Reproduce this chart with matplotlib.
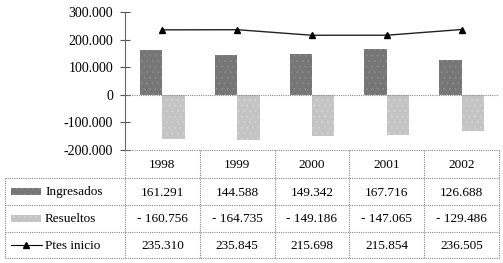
import matplotlib.pyplot as plt
from matplotlib.patches import Rectangle
from matplotlib.lines import Line2D

years = ['1998', '1999', '2000', '2001', '2002']
ingresados = [161291, 144588, 149342, 167716, 126688]
resueltos = [-160756, -164735, -149186, -147065, -129486]
ptes_inicio = [235310, 235845, 215698, 215854, 236505]
series_names = ['Ingresados', 'Resueltos', 'Ptes inicio']
yticks = [300000, 200000, 100000, 0, -100000, -200000]

plt.rcParams['font.family'] = 'serif'
plt.rcParams['font.serif'] = ['Liberation Serif', 'DejaVu Serif']
plt.rcParams['hatch.linewidth'] = 0.6

W, H = 503, 263
fig = plt.figure(figsize=(W / 100, H / 100), dpi=100)

def fx(px):
    return px / W

def fy(py):
    return 1 - py / H

c_ing = '#767676'
c_res = '#c4c4c4'
h_ing = '#8c8c8c'
h_res = '#d6d6d6'
grid_kw = dict(color='#8a8a8a', lw=0.8, ls=(0, (1, 1)))
fs = 9.5

# chart area
left, right, top, bottom = 125, 499, 12, 150
ax = fig.add_axes([fx(left), fy(bottom), fx(right - left), (bottom - top) / H])
x = list(range(len(years)))
bw = 0.3
ax.bar([i - bw / 2 for i in x], ingresados, bw, color=c_ing, edgecolor=h_ing,
       hatch='...', lw=0)
ax.bar([i + bw / 2 for i in x], resueltos, bw, color=c_res, edgecolor=h_res,
       hatch='...', lw=0)
ax.plot(x, ptes_inicio, color='#222222', lw=1, marker='^', ms=5,
        markerfacecolor='black', markeredgecolor='black')
ax.axhline(0, **grid_kw)
ax.set_xlim(-0.5, len(years) - 0.5)
ax.set_ylim(-200000, 300000)
ax.set_yticks(yticks)
ax.set_yticklabels([f'{v:,}'.replace(',', '.') for v in yticks],
                   fontsize=fs + 0.5, family='serif')
ax.tick_params(axis='y', direction='inout', length=7, width=0.8, color='#555555', pad=5)
ax.set_xticks([])
for s in ['top', 'right', 'bottom']:
    ax.spines[s].set_visible(False)
ax.spines['left'].set_color('#666666')
ax.spines['left'].set_linestyle((0, (1, 1)))

# data table below the chart
tl, tr, tt, tb = 5, 499, 150, 258
tax = fig.add_axes([0, 0, 1, 1])
tax.set_xlim(0, W)
tax.set_ylim(H, 0)
tax.axis('off')
col_w = (tr - left) / len(years)
row_h = [tt, 178, 205, 232, tb]

# horizontal lines
tax.plot([left, tr], [tt, tt], **grid_kw)
for yy in row_h[1:]:
    tax.plot([tl, tr], [yy, yy], **grid_kw)
# vertical lines
tax.plot([tl, tl], [row_h[1], tb], **grid_kw)
for i in range(len(years) + 1):
    xx = left + i * col_w
    tax.plot([xx, xx], [tt, tb], **grid_kw)

def fmt(v):
    s = f'{abs(v):,}'.replace(',', '.')
    return ('- ' if v < 0 else '') + s

rows = [ingresados, resueltos, ptes_inicio]
for i, yr in enumerate(years):
    cx = left + (i + 0.5) * col_w
    tax.text(cx, (row_h[0] + row_h[1]) / 2 + 1, yr, ha='center', va='center',
             fontsize=fs, family='serif')
    for r, vals in enumerate(rows):
        cy = (row_h[r + 1] + row_h[r + 2]) / 2 + 1
        tax.text(cx, cy, fmt(vals[i]), ha='center', va='center', fontsize=fs,
                 family='serif')

# legend keys
for r, name in enumerate(series_names):
    cy = (row_h[r + 1] + row_h[r + 2]) / 2
    if r < 2:
        col = c_ing if r == 0 else c_res
        ec = h_ing if r == 0 else h_res
        tax.add_patch(Rectangle((11, cy - 3.5), 30, 7, facecolor=col, edgecolor=ec,
                                hatch='...', lw=0))
    else:
        tax.add_artist(Line2D([11, 42], [cy, cy], color='black', lw=0.8))
        tax.plot([26], [cy], marker='^', color='black', ms=5)
    tax.text(45, cy + 1, name, ha='left', va='center', fontsize=fs, family='serif')

fig.savefig('out.png', dpi=100)
